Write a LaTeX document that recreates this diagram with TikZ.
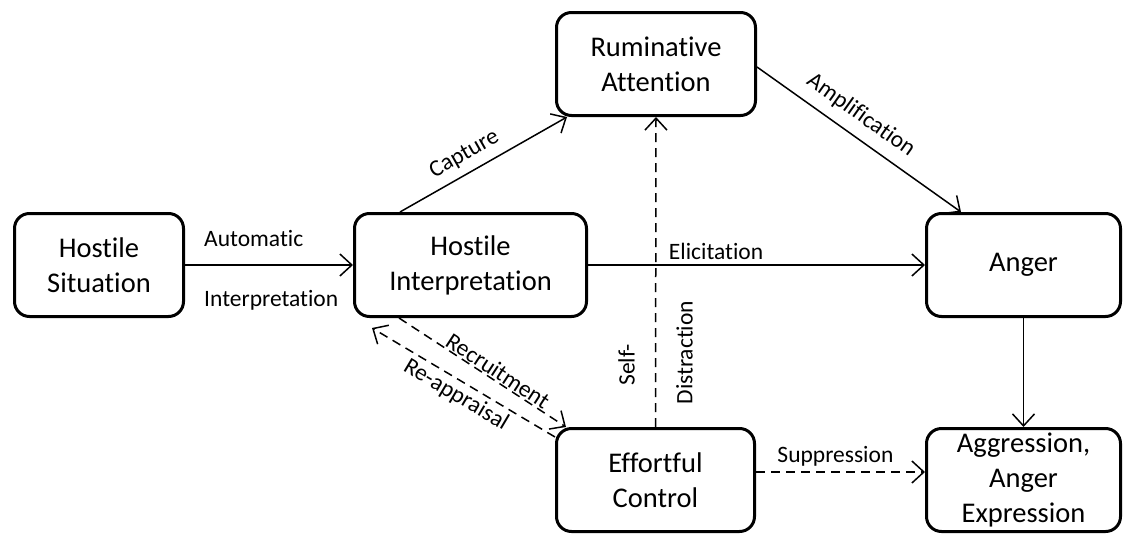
\documentclass[tikz,border=0pt]{standalone}
\usepackage{fontspec}
\setmainfont[Ligatures=NoCommon]{Carlito}
\usetikzlibrary{arrows.meta}

\begin{document}
\begin{tikzpicture}
[x=1pt,y=-1pt,
  boxDecorate/.style={shape=rectangle,draw,line width=3pt,rounded corners=15pt,
    minimum height=103pt,inner sep=0pt,align=center,
    font=\fontsize{28.5}{35}\selectfont},
  lineDecorate/.style={line width=1.5pt,-{Straight Barb[length=12pt,width=22pt]}},
  dashDecorate/.style={lineDecorate,dash pattern=on 9pt off 6pt},
  labelDecorate/.style={font=\fontsize{23.5}{28}\selectfont,inner sep=0pt}]
\useasboundingbox (0,0) rectangle (1128,536);
%% boxes
\foreach \nodename/\x/\y/\w/\txt in {
  sit/99/265/169/{Hostile\\Situation},
  hi/470.5/265/232/{Hostile\\Interpretation},
  rum/656/64/199/{Ruminative\\Attention},
  ang/1023.5/265/194/{Anger},
  ec/655.5/480/198/{Effortful\\Control},
  agg/1023.5/480/194/{Aggression,\\Anger\\Expression}}
{
  \node (\nodename) at (\x,\y) [boxDecorate,minimum width=\w pt] {\txt};
}
%% connectors
\draw[lineDecorate] (sit.east) --
  node[labelDecorate,pos=0.11,anchor=base west,yshift=19pt] {Automatic}
  node[labelDecorate,pos=0.11,anchor=base west,yshift=-41pt] {Interpretation}
  (hi.west);
\draw[lineDecorate] ([xshift=47pt]hi.north west) --
  node[labelDecorate,pos=0.44,sloped,above=8pt] {Capture}
  ([xshift=12pt]rum.south west);
\draw[lineDecorate] ([yshift=-3pt]rum.east) --
  node[labelDecorate,pos=0.45,sloped,above=10pt] {Amplification}
  ([xshift=36pt]ang.north west);
\draw[lineDecorate] (hi.east) --
  node[labelDecorate,pos=0.38,above=5pt] {Elicitation}
  (ang.west);
\draw[lineDecorate] (ang.south) -- (agg.north);
\draw[dashDecorate] (ec.north) --
  node[labelDecorate,pos=0.2,sloped,above=20pt] {Self-}
  node[labelDecorate,pos=0.24,sloped,below=20pt] {Distraction}
  (rum.south);
\draw[dashDecorate] ([yshift=8pt]ec.east) --
  node[labelDecorate,pos=0.47,above=5pt] {Suppression}
  ([yshift=8pt]agg.west);
\draw[dashDecorate] ([xshift=46pt]hi.south west) --
  node[labelDecorate,pos=0.56,sloped,above=1pt] {Recruitment}
  ([xshift=11pt]ec.north west);
\draw[dashDecorate] ([yshift=-10pt]ec.north west) --
  node[labelDecorate,pos=0.5,sloped,below=4pt] {Re-appraisal}
  ([xshift=19pt,yshift=-10pt]hi.south west);
\end{tikzpicture}
\end{document}
